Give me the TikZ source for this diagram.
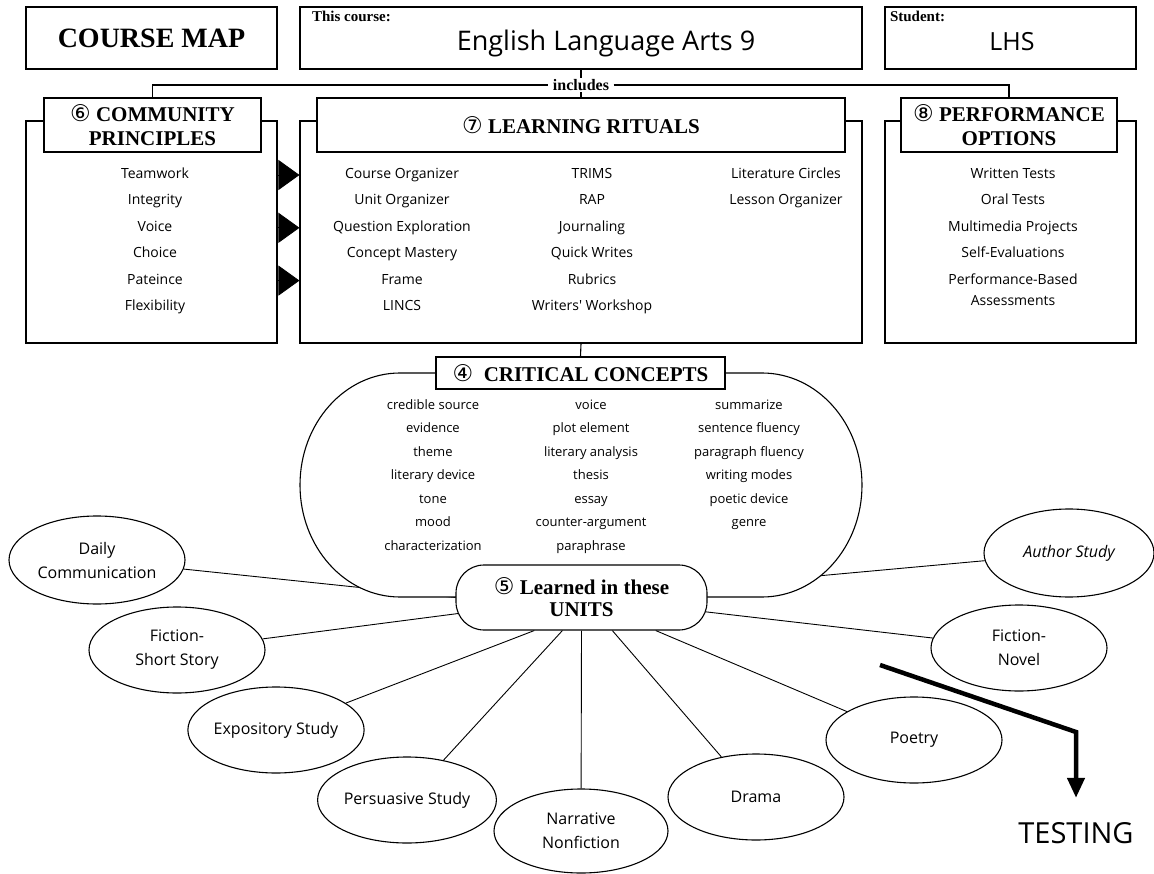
\documentclass[tikz,border=0pt]{standalone}
\usepackage{fontspec}
\setmainfont{Liberation Serif}
\newfontfamily\handfont{Open Sans}
\newfontfamily\numfont{DejaVu Sans}
\usetikzlibrary{arrows.meta,positioning,calc,shapes.geometric,backgrounds}

\newcommand{\cnum}[1]{{\numfont\mdseries\fontsize{23}{23}\selectfont#1}}

\begin{document}
\begin{tikzpicture}[
  x=1pt, y=-1pt, line width=1.1pt,
  box/.style={draw, inner sep=0pt},
  ttl/.style={box, fill=white, align=center, font=\bfseries\fontsize{21}{24}\selectfont},
  hd/.style={anchor=north west, inner sep=0pt, font=\bfseries\fontsize{15}{17}\selectfont},
  item/.style={inner sep=0pt, text height=10pt, text depth=3pt,
               font=\handfont\fontsize{14}{21}\selectfont},
  concept/.style={inner sep=0pt, text height=9.5pt, text depth=3pt,
                  font=\handfont\fontsize{13}{15}\selectfont},
  unit/.style={draw, ellipse, minimum width=176pt, minimum height=86pt, inner sep=0pt,
               align=center, font=\handfont\fontsize{16}{24}\selectfont},
  lnk/.style={line width=0.9pt},
  tri/.style={-{Triangle[length=21pt,width=30pt]}, line width=0.8pt},
  testarr/.style={-{Triangle[length=20pt,width=17pt]}, line width=4.5pt}
]
\useasboundingbox (0,0) rectangle (1154,874);

% top row
\node[box, minimum width=251pt, minimum height=62pt,
      font=\bfseries\fontsize{28}{30}\selectfont] (map) at (151.5,38) {COURSE MAP};
\node[box, minimum width=562pt, minimum height=62pt] (course) at (581,38) {};
\node[hd] (coursehd) at ([shift={(12,4)}]course.north west) {This course:};
\node[anchor=base, inner sep=0pt, font=\handfont\fontsize{27}{30}\selectfont]
     (coursenm) at (606,51) {English Language Arts 9};
\node[box, minimum width=251pt, minimum height=62pt] (student) at (1010.5,38) {};
\node[hd] (studenthd) at ([shift={(5,4)}]student.north west) {Student:};
\node[anchor=base, inner sep=0pt, font=\handfont\fontsize{25}{28}\selectfont]
     (studentnm) at (1012,51) {LHS};

\node[inner xsep=4pt, inner ysep=1pt, font=\bfseries\fontsize{16}{18}\selectfont]
     (inc) at (581,85) {includes};

% three panels
\node[box, minimum width=251pt, minimum height=222pt] (cpo) at (151.5,232) {};
\node[box, minimum width=562pt, minimum height=222pt] (lro) at (581,232) {};
\node[box, minimum width=251pt, minimum height=222pt] (pfo) at (1010.5,232) {};
\node[ttl, minimum width=217pt, minimum height=54pt] (cpt) at (152.5,125)
     {\cnum{⑥}\ COMMUNITY\\PRINCIPLES};
\node[ttl, minimum width=528pt, minimum height=54pt] (lrt) at (581,125)
     {\cnum{⑦}\ LEARNING RITUALS};
\node[ttl, minimum width=216pt, minimum height=54pt] (pft) at (1009,125)
     {\cnum{⑧}\ PERFORMANCE\\OPTIONS};

\draw (cpt.north) |- (inc.west);
\draw (inc.east) -| (pft.north);
\draw (course.south) -- (inc.north);
\draw (inc.south) -- (lrt.north);

\foreach \txt [count=\i] in {Teamwork,Integrity,Voice,Choice,Pateince,Flexibility}
  \node[item] (cp\i) at (155,{175+26.4*(\i-1)}) {\txt};
\foreach \txt [count=\i] in {Course Organizer,Unit Organizer,Question Exploration,
                             Concept Mastery,Frame,LINCS}
  \node[item] (lra\i) at (402,{175+26.4*(\i-1)}) {\txt};
\foreach \txt [count=\i] in {TRIMS,RAP,Journaling,Quick Writes,Rubrics,Writers' Workshop}
  \node[item] (lrb\i) at (592,{175+26.4*(\i-1)}) {\txt};
\foreach \txt [count=\i] in {Literature Circles,Lesson Organizer}
  \node[item] (lrc\i) at (786,{175+26.4*(\i-1)}) {\txt};
\foreach \txt [count=\i] in {Written Tests,Oral Tests,Multimedia Projects,Self-Evaluations,
                             Performance-Based}
  \node[item] (pf\i) at (1013,{175+26.4*(\i-1)}) {\txt};
\node[item] (pf6) at (1013,302) {Assessments};

\foreach \r in {1,3,5}
  \draw[tri] (cpo.east |- cp\r) -- (lro.west |- cp\r);

% critical concepts
\draw[fill=white] (400,373) -- (762,373)
  arc[start angle=-90, end angle=90, x radius=100, y radius=112]
  -- (400,597) arc[start angle=90, end angle=270, x radius=100, y radius=112] -- cycle;
\node[box, fill=white, minimum width=289pt, minimum height=32pt,
      font=\bfseries\fontsize{21}{23}\selectfont] (cct) at (580.5,373)
     {\cnum{④}\ \ CRITICAL CONCEPTS};
\draw (lro.south) -- (cct.north);

\foreach \txt [count=\i] in {credible source,evidence,theme,literary device,tone,
                             mood,characterization}
  \node[concept] (cca\i) at (433,{406+23.5*(\i-1)}) {\txt};
\foreach \txt [count=\i] in {voice,plot element,literary analysis,thesis,essay,
                             counter-argument,paraphrase}
  \node[concept] (ccb\i) at (591,{406+23.5*(\i-1)}) {\txt};
\foreach \txt [count=\i] in {summarize,sentence fluency,paragraph fluency,
                             writing modes,poetic device,genre}
  \node[concept] (ccc\i) at (749,{406+23.5*(\i-1)}) {\txt};

% units
\node[box, fill=white, minimum width=251pt, minimum height=65pt, rounded corners=28pt,
      align=center, font=\bfseries\fontsize{21}{22}\selectfont] (units) at (581.5,597.5)
     {\cnum{⑤} Learned in these\\UNITS};

\node[unit, minimum height=88pt] (daily) at (97,560) {Daily\\Communication};
\node[unit] (shortst) at (177,650) {Fiction-\\Short Story};
\node[unit] (expo) at (276,730) {Expository Study};
\node[unit] (pers) at (407,800) {Persuasive Study};
\node[unit, minimum width=174pt, minimum height=84pt] (narr) at (581,831)
     {Narrative\\Nonfiction};
\node[unit] (drama) at (756,797) {Drama};
\node[unit] (poetry) at (914,740) {Poetry};
\node[unit] (novel) at (1019,648) {Fiction-\\Novel};
\node[unit, minimum width=170pt, minimum height=88pt] (author) at (1069,553)
     {\itshape Author Study};

\begin{scope}[on background layer]
  \fill[white] (0,0) rectangle (1154,874);
  \draw[lnk] (daily) -- (units.west);
  \draw[lnk] (shortst) -- (units.center);
  \draw[lnk] (expo) -- (units.215);
  \draw[lnk] (pers) -- (units.240);
  \draw[lnk] (narr) -- (units.south);
  \draw[lnk] (drama) -- (units.313);
  \draw[lnk] (poetry) -- (units.336);
  \draw[lnk] (novel) -- (units.center);
  \draw[lnk] (author) -- (units.center);
\end{scope}

% testing
\node[inner sep=0pt, font=\handfont\fontsize{29}{30}\selectfont] (test) at (1076,833) {TESTING};
\coordinate (tstart) at (880,665);
\coordinate (tbend) at (1076,732);
\draw[testarr, shorten >=24pt] (tstart) -- (tbend) -- (test.north);
\end{tikzpicture}
\end{document}
